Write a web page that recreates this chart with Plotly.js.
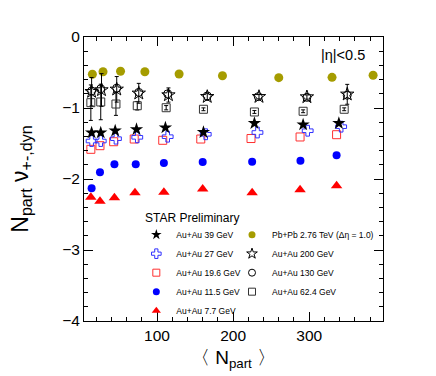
<!DOCTYPE html>
<html><head><meta charset="utf-8">
<script src="https://cdn.plot.ly/plotly-3.0.1.min.js"></script>
<style>body{margin:0;padding:0;background:#fff}#chart{width:436px;height:376px}</style>
</head><body><div id="chart"></div>
<script>
// ---- data ----
const names = ["Au+Au 39 GeV","Au+Au 27 GeV","Au+Au 19.6 GeV","Au+Au 11.5 GeV","Au+Au 7.7 GeV",
               "Pb+Pb 2.76 TeV (Δη = 1.0)","Au+Au 200 GeV","Au+Au 130 GeV","Au+Au 62.4 GeV"];
const npart39  = [14,26,45,73,111,161,228,292,339];
const val39    = [-1.348,-1.348,-1.320,-1.300,-1.277,-1.342,-1.215,-1.235,-1.215];
const npart27  = [14,26,46,74,114,164,232,298,342];
const val27    = [-1.465,-1.465,-1.432,-1.413,-1.404,-1.370,-1.345,-1.320,-1.263];
const npart196 = [13,25,43,70,107.5,157.5,223.5,288,336];
const val196   = [-1.582,-1.531,-1.475,-1.437,-1.455,-1.437,-1.430,-1.408,-1.376];
const npart115 = [14,25,44,72,109,160,225,288.5,336];
const val115   = [-2.131,-1.906,-1.793,-1.793,-1.775,-1.761,-1.756,-1.742,-1.666];
const npart77  = [13,25,44,71,109,160,225,288,336];
const val77    = [-2.258,-2.314,-2.263,-2.193,-2.187,-2.141,-2.193,-2.151,-2.094];
const npartPb  = [15,29,52,84,129,186,260,330,384];
const valPb    = [-0.525,-0.489,-0.483,-0.489,-0.521,-0.545,-0.573,-0.568,-0.539];
const npart200 = [14,27,47,76,115,166,234,297,350];
const val200   = [-0.770,-0.746,-0.737,-0.793,-0.817,-0.841,-0.841,-0.845,-0.807];
const err200   = [0.20,0.23,0.18,0.14,0.10,0.05,0.03,0.03,0.14];
const npart130 = [14,26,47,76,114,166,233,297,350];
const val130   = [-0.76,-0.73,-0.72,-0.78,-0.80,-0.83,-0.84,-0.85,-0.82];
const npart624 = [13,26,46,74,112,161,228,292,346];
const val624   = [-0.925,-0.915,-0.944,-0.968,-0.996,-1.018,-1.056,-1.046,-1.018];
const err624   = [0.25,0.25,0.16,0.06,0.03,0.02,0.02,0.02,0.02];
const xTicks = [100,200,300];
const yTicks = [0,-1,-2,-3,-4];

const FONT = "Liberation Sans, Arial, sans-serif";
const styles = [
  // [symbol, color, plot size, legend size, legend id]
  ['star','#000',10,8,'legend'],
  ['cross-open','#3030ff',9,8,'legend'],
  ['square-open','#ff3030',8,7,'legend'],
  ['circle','#0000ff',8,7,'legend'],
  ['triangle-up','#ff0000',10,8,'legend'],
  ['circle','#a59c00',9,7,'legend2'],
  ['star-open','#000',10,8,'legend2'],
  ['circle-open','#000',8,7,'legend2'],
  ['square-open','#333',8,7,'legend2']
];
const xs = [npart39,npart27,npart196,npart115,npart77,npartPb,npart200,npart130,npart624];
const ys = [val39,val27,val196,val115,val77,valPb,val200,val130,val624];
const errs = [null,null,null,null,null,null,err200,null,err624];

function mk(i, size){
  const s = styles[i];
  const open = s[0].indexOf('open')>=0;
  return {symbol:s[0],color:s[1],size:size,line:{color:s[1],width:open?1:0}};
}
const drawOrder = [5,8,7,6,4,3,2,1,0];
const data = [];
drawOrder.forEach(i=>{
  const t = {x:xs[i],y:ys[i],name:names[i],type:'scatter',mode:'markers',showlegend:false,
    marker:mk(i,styles[i][2]),cliponaxis:false};
  if(errs[i]) t.error_y={type:'data',array:errs[i],visible:true,color:'#000',thickness:1,width:2};
  data.push(t);
});
// legend entries (no visible points of their own; same names/markers as the series above)
[0,1,2,3,4,5,6,7,8].forEach(i=>{
  data.push({x:[null],y:[null],name:names[i],type:'scatter',mode:'markers',legend:styles[i][4],
    showlegend:true,marker:mk(i,styles[i][3])});
});
const legBase = {bgcolor:'rgba(0,0,0,0)',borderwidth:0,font:{family:FONT,size:8.5,color:'#000'},
  orientation:'v',yanchor:'top',xanchor:'left',traceorder:'normal',itemwidth:30,tracegroupgap:0};
const layout = {
  width:436,height:376,
  margin:{l:84,r:53,t:37,b:55,pad:0},
  paper_bgcolor:'#fff',plot_bgcolor:'#fff',
  font:{family:FONT,color:'#000'},
  showlegend:true,
  legend:Object.assign({},legBase,{x:0.175,y:0.355}),
  legend2:Object.assign({},legBase,{x:0.495,y:0.355}),
  xaxis:{range:[4,397],tickvals:xTicks,ticks:'inside',ticklen:9,tickcolor:'#000',
    showline:true,linecolor:'#000',linewidth:1,mirror:'ticks',showgrid:false,zeroline:false,
    tickfont:{size:15.5,family:FONT},
    minor:{dtick:20,tick0:0,ticks:'inside',ticklen:4,tickcolor:'#000',showgrid:false},
    title:{text:'〈 N<sub>part</sub> 〉',font:{size:19,family:FONT},standoff:8}},
  yaxis:{range:[-4,0],tickvals:yTicks,ticks:'inside',ticklen:9,tickcolor:'#000',
    showline:true,linecolor:'#000',linewidth:1,mirror:'ticks',showgrid:false,zeroline:false,
    tickfont:{size:15.5,family:FONT},
    minor:{dtick:0.2,tick0:0,ticks:'inside',ticklen:4,tickcolor:'#000',showgrid:false},
    title:{text:'N<sub>part</sub> ν<sub>+-,dyn</sub>',font:{size:23,family:FONT},standoff:27}},
  annotations:[
    {xref:'paper',yref:'paper',x:0.945,y:0.935,xanchor:'right',yanchor:'middle',showarrow:false,
     text:'|η|<0.5',font:{size:14.5,family:FONT,color:'#000'}},
    {xref:'paper',yref:'paper',x:0.198,y:0.363,xanchor:'left',yanchor:'middle',showarrow:false,
     text:'STAR Preliminary',font:{size:12,family:FONT,color:'#000'}}
  ]
};
Plotly.newPlot('chart',data,layout,{displayModeBar:false,staticPlot:true});
</script></body></html>
